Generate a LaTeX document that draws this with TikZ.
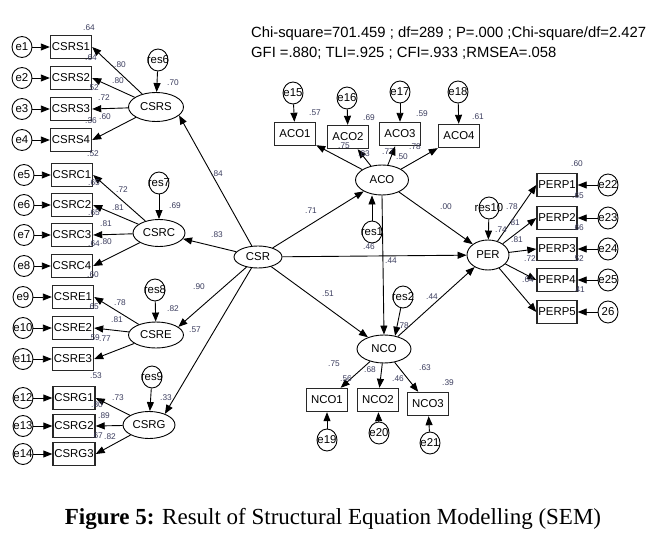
\documentclass[tikz,border=0pt]{standalone}
\usepackage{fontspec}
\setmainfont{Liberation Sans}
\newfontfamily\capfont{Liberation Serif}
\usetikzlibrary{shapes.geometric,arrows.meta}
\definecolor{lblc}{RGB}{60,62,95}
\definecolor{boxc}{RGB}{40,40,40}
\newcommand\lb[4]{\node[lbl] (#1) at (#2,#3) {#4};}
\begin{document}
\begin{tikzpicture}[x=1pt,y=-1pt,
  nfont/.style={font=\fontsize{11.4}{12}\selectfont},
  lat/.style={ellipse, draw, line width=0.9pt, inner sep=0pt, nfont},
  obs/.style={rectangle, draw=boxc, line width=1.4pt, minimum width=41pt, minimum height=23pt, inner sep=0pt, nfont},
  err/.style={ellipse, draw, line width=0.9pt, minimum width=20pt, minimum height=22pt, inner sep=0pt, label={[nfont,inner sep=0pt]center:#1}},
  lbl/.style={font=\fontsize{8.3}{9}\selectfont, text=lblc, inner sep=0pt},
  arr/.style={-{Triangle[length=9pt,width=7pt]}, line width=0.9pt}]
\useasboundingbox (0,0) rectangle (667,543);
\fill[white] (0,0) rectangle (667,543);

% header
\node[anchor=base west, font=\fontsize{14.8}{16}\selectfont, inner sep=0pt] (fit1) at (251,38) {Chi-square=701.459 ; df=289 ; P=.000 ;Chi-square/df=2.427};
\node[anchor=base west, font=\fontsize{14.8}{16}\selectfont, inner sep=0pt] (fit2) at (251,58) {GFI =.880; TLI=.925 ; CFI=.933 ;RMSEA=.058};

% latent variables
\node[lat, minimum width=55pt, minimum height=29pt] (CSRS) at (156,107) {CSRS};
\node[lat, minimum width=52pt, minimum height=27pt] (CSRC) at (159,233) {CSRC};
\node[lat, minimum width=55pt, minimum height=26pt] (CSRE) at (156,335) {CSRE};
\node[lat, minimum width=52pt, minimum height=27pt] (CSRG) at (149,425) {CSRG};
\node[lat, minimum width=48pt, minimum height=22pt] (CSR) at (258,257) {CSR};
\node[lat, minimum width=53pt, minimum height=30pt] (ACO) at (382,180) {ACO};
\node[lat, minimum width=54pt, minimum height=28pt] (NCO) at (384,349) {NCO};
\node[lat, minimum width=42pt, minimum height=30pt] (PER) at (488,255) {PER};

% residuals
\node[err=res6] (res6) at (158,60) {};
\node[err=res7] (res7) at (159,183) {};
\node[err=res8] (res8) at (155,290) {};
\node[err=res9] (res9) at (152,377) {};
\node[err=res1] (res1) at (372,232) {};
\node[err=res2] (res2) at (403,297) {};
\node[err=res10] (res10) at (489,208) {};
\draw[arr] (res6) -- (CSRS);
\draw[arr] (res7) -- (CSRC);
\draw[arr] (res8) -- (CSRE);
\draw[arr] (res9) -- (CSRG);
\draw[arr] (res1.north) -- (res1.north |- ACO.south);
\draw[arr] (res2) -- (NCO.50);
\draw[arr] (res10) -- (PER);

% left indicators
\foreach \n/\e/\y in {1/1/47,2/2/78,3/3/109,4/4/140} {
  \node[obs] (CSRS\n) at (71,\y) {CSRS\n};
  \node[err=e\e, minimum height=21pt] (e\e) at (22,\y) {};
  \draw[arr] (e\e) -- (CSRS\n);
  \draw[arr] (CSRS) -- (CSRS\n.east);
}
\foreach \n/\e/\y in {1/5/175,2/6/205,3/7/235,4/8/266} {
  \node[obs] (CSRC\n) at (72,\y) {CSRC\n};
  \node[err=e\e, minimum height=21pt] (e\e) at (24,\y) {};
  \draw[arr] (e\e) -- (CSRC\n);
  \draw[arr] (CSRC) -- (CSRC\n.east);
}
\foreach \n/\e/\y in {1/9/297,2/10/328,3/11/359} {
  \node[obs] (CSRE\n) at (73,\y) {CSRE\n};
  \node[err=e\e, minimum height=21pt] (e\e) at (23,\y) {};
  \draw[arr] (e\e) -- (CSRE\n);
  \draw[arr] (CSRE) -- (CSRE\n.east);
}
\foreach \n/\e/\y in {1/12/398,2/13/426,3/14/454} {
  \node[obs, minimum width=42pt] (CSRG\n) at (74,\y) {CSRG\n};
  \node[err=e\e, minimum height=21pt] (e\e) at (23,\y) {};
  \draw[arr] (e\e) -- (CSRG\n);
  \draw[arr] (CSRG) -- (CSRG\n.east);
}

% ACO indicators
\foreach \n/\x/\y/\ex/\ey/\e in {1/295/134/293/93/15, 2/348/137/347/98/16, 3/400/134/400/92/17, 4/459/136/458/92/18} {
  \node[obs] (ACO\n) at (\x,\y) {ACO\n};
  \node[err=e\e] (e\e) at (\ex,\ey) {};
  \draw[arr] (e\e) -- (ACO\n);
  \draw[arr] (ACO) -- (ACO\n);
}
% NCO indicators
\foreach \n/\x/\y/\ex/\ey/\e in {1/327/400/327/440/19, 2/378/400/379/433/20, 3/428/404/430/443/21} {
  \node[obs] (NCO\n) at (\x,\y) {NCO\n};
  \node[err=e\e] (e\e) at (\ex,\ey) {};
  \draw[arr] (e\e) -- (NCO\n);
  \draw[arr] (NCO) -- (NCO\n);
}
% PER indicators
\foreach \n/\y/\e in {1/185/e22, 2/218/e23, 3/249/e24, 4/280/e25, 5/312/26} {
  \node[obs, minimum width=40pt] (PERP\n) at (557,\y) {PERP\n};
  \node[err=\e] (q\n) at (608,\y) {};
  \draw[arr] (q\n) -- (PERP\n);
  \draw[arr] (PER) -- (PERP\n.west);
}

% structural paths
\draw[arr] (CSR) -- (CSRS.-20);
\draw[arr] (CSR) -- (CSRC);
\draw[arr] (CSR) -- (CSRE.20);
\draw[arr] (CSR) -- (CSRG.35);
\draw[arr] (CSR) -- (ACO);
\draw[arr] (CSR) -- (NCO);
\draw[arr] (CSR) -- (PER);
\draw[arr] (ACO) -- (PER);
\draw[arr] (NCO) -- (PER);
\draw[arr] (ACO.south) -- (NCO.north);

% labels: left block R^2
\lb{r1}{89}{28}{.64} \lb{r2}{91}{58}{.64} \lb{r3}{93}{88}{.52} \lb{r4}{91}{121}{.36}
\lb{r5}{93}{154}{.52} \lb{r6}{94}{183}{.65} \lb{r7}{94}{213}{.65} \lb{r8}{94}{244}{.64}
\lb{r9}{93}{275}{.60} \lb{r10}{93}{307}{.65} \lb{r11}{94}{338}{.59}
\lb{r12}{96}{376}{.53} \lb{r13}{97}{405}{.80} \lb{r14}{97}{436}{.67}
% left loadings
\lb{k1}{120}{65}{.80} \lb{k2}{118}{81}{.80} \lb{k3}{104}{98}{.72} \lb{k4}{105}{117}{.60}
\lb{k5}{122}{190}{.72} \lb{k6}{118}{208}{.81} \lb{k7}{106}{224}{.81} \lb{k8}{106}{242}{.80}
\lb{k9}{120}{303}{.78} \lb{k10}{117}{320}{.81} \lb{k11}{105}{339}{.77}
\lb{k12}{118}{398}{.73} \lb{k13}{104}{416}{.89} \lb{k14}{110}{437}{.82}
% latent R^2 and paths
\lb{s1}{173}{83}{.70} \lb{s2}{175}{206}{.69} \lb{s3}{173}{309}{.82} \lb{s4}{166}{398}{.33}
\lb{p1}{217}{174}{.84} \lb{p2}{217}{235}{.83} \lb{p3}{199}{287}{.90} \lb{p4}{195}{330}{.57}
\lb{p5}{311}{211}{.71} \lb{p6}{328}{294}{.51} \lb{p7}{446}{207}{.00} \lb{p8}{432}{297}{.44}
\lb{p9}{369}{247}{.46} \lb{p10}{391}{261}{.44} \lb{p11}{402}{157}{.50} \lb{p12}{403}{326}{.78}
% ACO labels
\lb{a1}{315}{113}{.57} \lb{a2}{369}{118}{.69} \lb{a3}{422}{114}{.59} \lb{a4}{478}{117}{.61}
\lb{a5}{344}{146}{.75} \lb{a6}{364}{154}{.83} \lb{a7}{388}{152}{.77} \lb{a8}{415}{147}{.78}
% NCO labels
\lb{n1}{334}{364}{.75} \lb{n2}{346}{379}{.56} \lb{n3}{370}{370}{.68} \lb{n4}{398}{379}{.46}
\lb{n5}{425}{368}{.63} \lb{n6}{448}{383}{.39}
% PER labels
\lb{g1}{577}{164}{.60} \lb{g2}{578}{196}{.65} \lb{g3}{578}{228}{.66} \lb{g4}{578}{259}{.52} \lb{g5}{579}{290}{.41}
\lb{g6}{512}{207}{.78} \lb{g7}{501}{230}{.74} \lb{g8}{514}{223}{.81} \lb{g9}{517}{240}{.81}
\lb{g10}{530}{259}{.72} \lb{g11}{528}{280}{.64}

% caption
\node[anchor=base, font=\capfont\fontsize{23}{26}\selectfont, inner sep=0pt] (cap) at (333,524) {\textbf{Figure 5:} Result of Structural Equation Modelling (SEM)};
\end{tikzpicture}
\end{document}
